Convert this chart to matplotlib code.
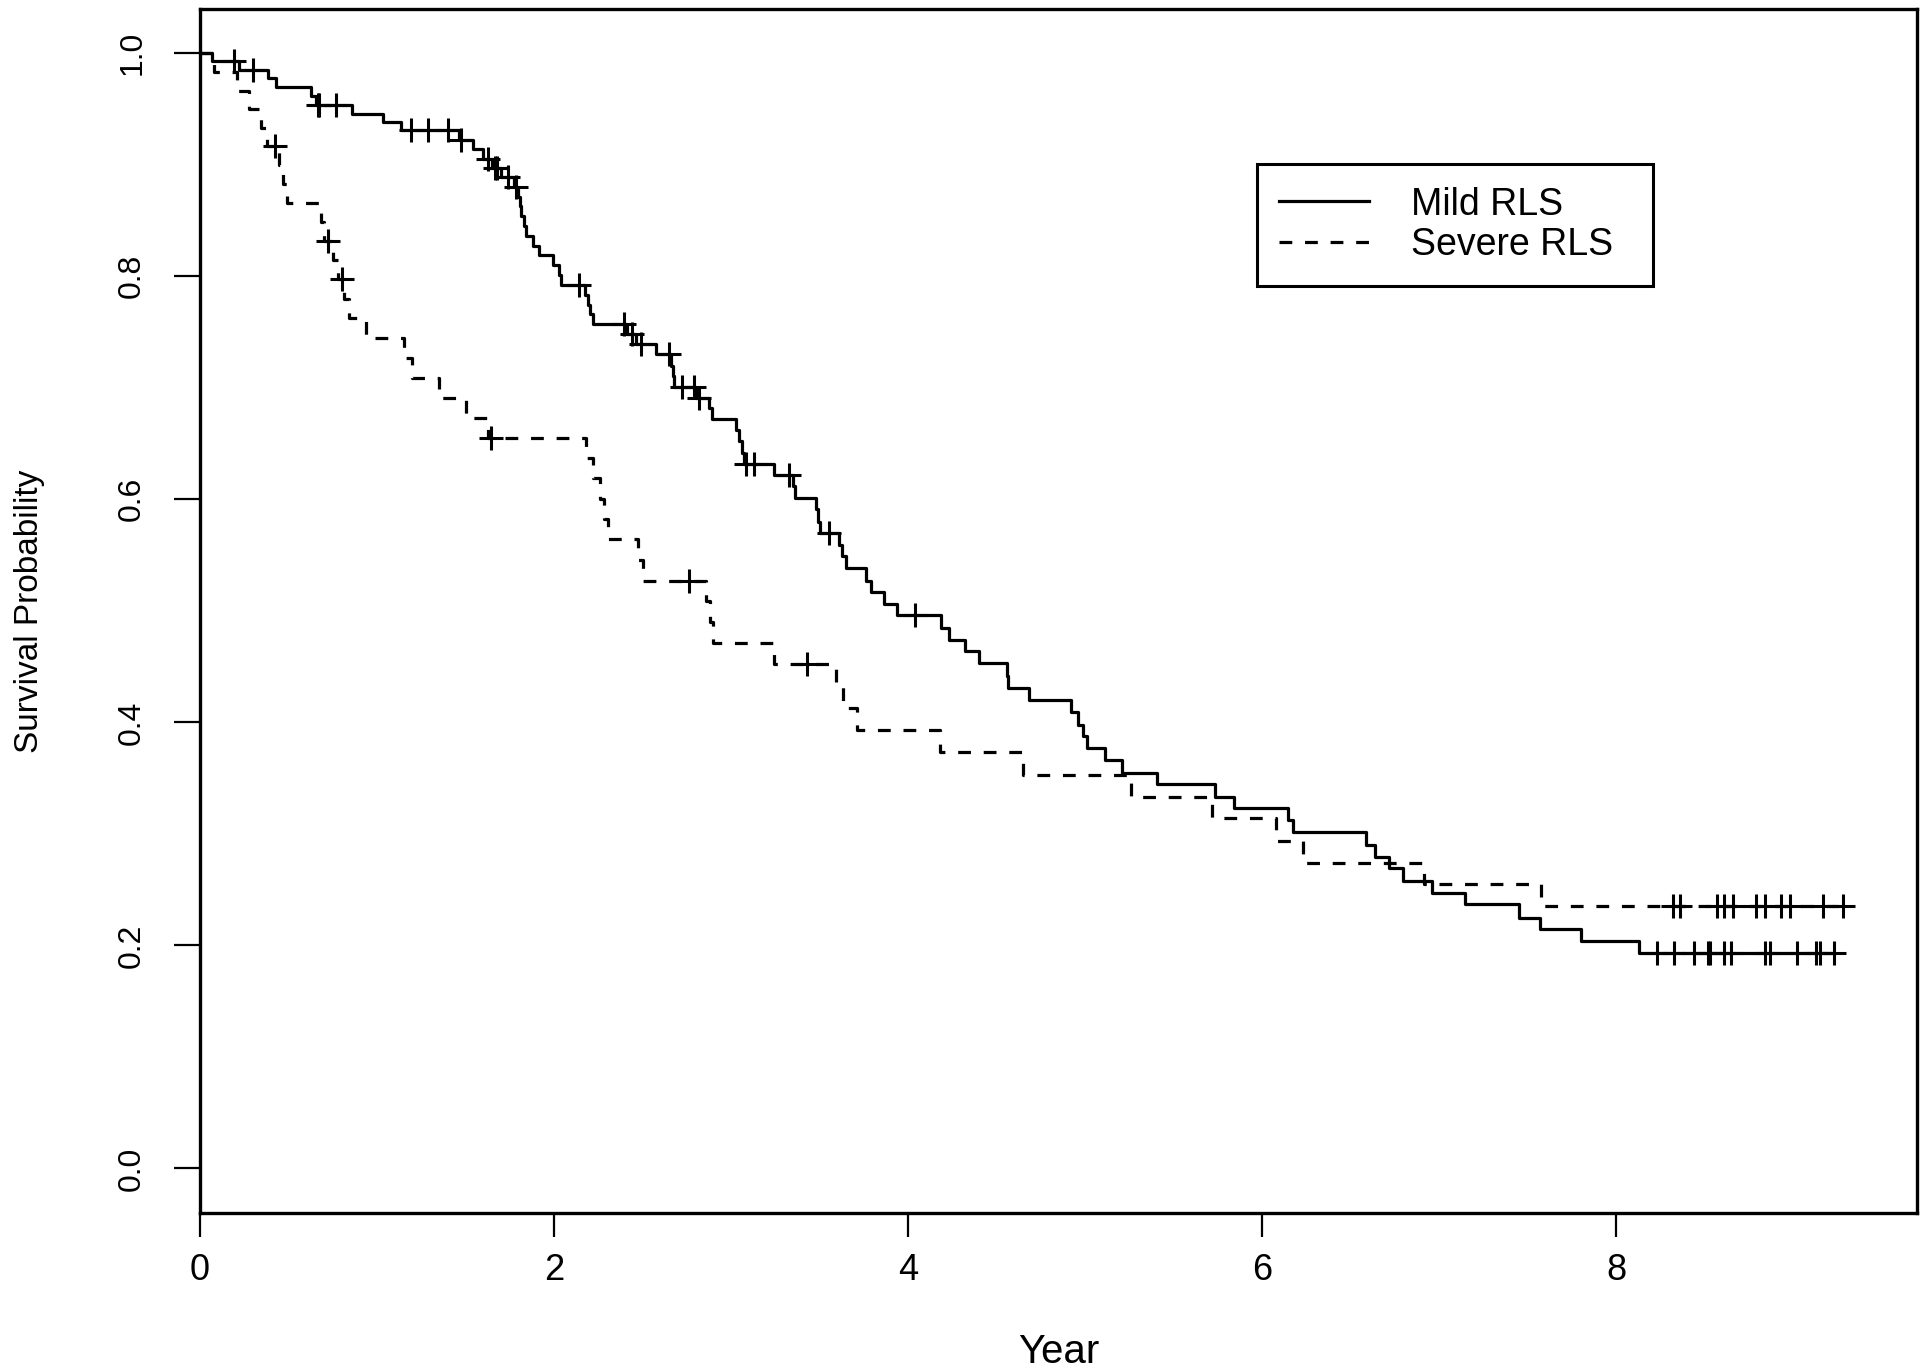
import numpy as np
import matplotlib
matplotlib.use("Agg")
from matplotlib import pyplot as plt

plt.rcParams['font.family'] = ['Liberation Sans', 'DejaVu Sans']

# Kaplan-Meier steps: event time (years) -> survival after the drop
mild_times = [0.068, 0.223, 0.383, 0.430, 0.628, 0.656, 0.857, 1.032, 1.136, 1.462,
              1.541, 1.597, 1.650, 1.700, 1.776, 1.795, 1.805, 1.815, 1.830, 1.842,
              1.880, 1.917, 1.993, 2.030, 2.040, 2.177, 2.190, 2.205, 2.219, 2.410,
              2.464, 2.577, 2.660, 2.670, 2.680, 2.800, 2.878, 2.890, 3.029, 3.045,
              3.060, 3.075, 3.245, 3.349, 3.360, 3.480, 3.490, 3.500, 3.612, 3.625,
              3.650, 3.763, 3.790, 3.862, 3.940, 4.187, 4.230, 4.320, 4.403, 4.558,
              4.567, 4.686, 4.918, 4.960, 4.987, 5.013, 5.111, 5.208, 5.408, 5.736,
              5.842, 6.147, 6.177, 6.590, 6.640, 6.716, 6.795, 6.958, 7.148, 7.450,
              7.570, 7.800, 8.130]
mild_surv = [0.993, 0.985, 0.978, 0.970, 0.962, 0.954, 0.946, 0.938, 0.931, 0.922,
             0.914, 0.905, 0.897, 0.889, 0.880, 0.871, 0.863, 0.854, 0.845, 0.836,
             0.827, 0.819, 0.810, 0.801, 0.792, 0.783, 0.774, 0.766, 0.757, 0.748,
             0.739, 0.730, 0.720, 0.711, 0.701, 0.691, 0.682, 0.672, 0.662, 0.652,
             0.642, 0.632, 0.622, 0.612, 0.601, 0.591, 0.580, 0.570, 0.559, 0.549,
             0.538, 0.527, 0.517, 0.506, 0.496, 0.485, 0.474, 0.464, 0.453, 0.442,
             0.431, 0.420, 0.409, 0.398, 0.388, 0.377, 0.366, 0.355, 0.345, 0.333,
             0.323, 0.312, 0.302, 0.290, 0.279, 0.269, 0.258, 0.247, 0.237, 0.225,
             0.215, 0.204, 0.193]
mild_censor = [0.194, 0.298, 0.665, 0.675, 0.769, 1.193, 1.287, 1.400, 1.475, 1.625,
               1.665, 1.680, 1.739, 1.785, 2.143, 2.398, 2.440, 2.490, 2.652, 2.724,
               2.790, 2.820, 3.085, 3.132, 3.326, 3.556, 4.040,
               8.23, 8.33, 8.44, 8.52, 8.53, 8.61, 8.65, 8.84, 8.87, 9.02, 9.13, 9.15, 9.23]

severe_times = [0.081, 0.210, 0.279, 0.345, 0.380, 0.449, 0.470, 0.490, 0.684, 0.700,
                0.750, 0.780, 0.816, 0.840, 0.938, 1.155, 1.200, 1.353, 1.503, 1.626,
                2.180, 2.220, 2.260, 2.285, 2.307, 2.473, 2.500, 2.860, 2.880, 2.900,
                3.245, 3.594, 3.630, 3.710, 4.180, 4.648, 5.260, 5.720, 6.080, 6.230,
                6.915, 7.575]
severe_surv = [0.983, 0.966, 0.950, 0.933, 0.917, 0.900, 0.883, 0.866, 0.849, 0.832,
               0.815, 0.798, 0.780, 0.763, 0.745, 0.727, 0.709, 0.691, 0.673, 0.655,
               0.637, 0.619, 0.600, 0.582, 0.564, 0.546, 0.527, 0.509, 0.490, 0.471,
               0.452, 0.432, 0.413, 0.393, 0.373, 0.353, 0.333, 0.314, 0.294, 0.274,
               0.255, 0.235]
severe_censor = [0.426, 0.722, 0.803, 1.645, 2.760, 3.430,
                 8.32, 8.36, 8.57, 8.61, 8.66, 8.79, 8.84, 8.93, 8.98, 9.17, 9.28]

groups = ["Mild RLS", "Severe RLS"]
x_ticks = [0, 2, 4, 6, 8]
y_ticks = [0.0, 0.2, 0.4, 0.6, 0.8, 1.0]


def km_path(times, surv, censor):
    t = np.r_[0.0, times, max(censor[-1], times[-1])]
    s = np.r_[1.0, surv, surv[-1]]
    return t, s


def level_at(times, surv, when):
    t = np.r_[0.0, times]
    s = np.r_[1.0, surv]
    idx = np.searchsorted(t, when, side="right") - 1
    return s[idx]


fig = plt.figure(figsize=(19.2, 13.7), dpi=100)
ax = fig.add_axes([200 / 1920, 1 - 1213 / 1370, 1717 / 1920, (1213 - 8.7) / 1370])

t, s = km_path(mild_times, mild_surv, mild_censor)
l1, = ax.step(t, s, where="post", color="black", lw=2.3)
ax.plot(mild_censor, level_at(mild_times, mild_surv, mild_censor), ls="none",
        marker="+", ms=17, mew=2.2, color="black")

t, s = km_path(severe_times, severe_surv, severe_censor)
l2, = ax.step(t, s, where="post", color="black", lw=2.3, dashes=(4, 4))
ax.plot(severe_censor, level_at(severe_times, severe_surv, severe_censor), ls="none",
        marker="+", ms=17, mew=2.2, color="black")

ax.set_xlim(0, 9.70)
ax.set_ylim(-0.04, 1.04)

ax.set_xticks(x_ticks)
ax.set_xticklabels([str(v) for v in x_ticks], fontsize=26)
ax.set_yticks(y_ticks)
ax.set_yticklabels([f"{v:.1f}" for v in y_ticks], fontsize=23, rotation=90, va="center")
ax.tick_params(axis="x", length=17, width=1.6, pad=12)
ax.tick_params(axis="y", length=19, width=1.6, pad=19)
for sp in ax.spines.values():
    sp.set_linewidth(2.4)

ax.set_xlabel("Year", fontsize=29)
ax.xaxis.set_label_coords(0.5, -0.1)
ax.set_ylabel("Survival Probability", fontsize=24)
ax.yaxis.set_label_coords(-0.0903, 0.5)

leg = ax.legend([l1, l2], groups, loc="upper left",
                bbox_to_anchor=(0.6156, 0.773, 0.2306, 0.098), mode="expand",
                fontsize=27, frameon=True, fancybox=False, edgecolor="black",
                framealpha=1, handlelength=2.4, handletextpad=1.1, borderpad=0.6,
                labelspacing=0.12, borderaxespad=0)
leg.get_frame().set_linewidth(2.2)

fig.savefig("out.png", dpi=100)
